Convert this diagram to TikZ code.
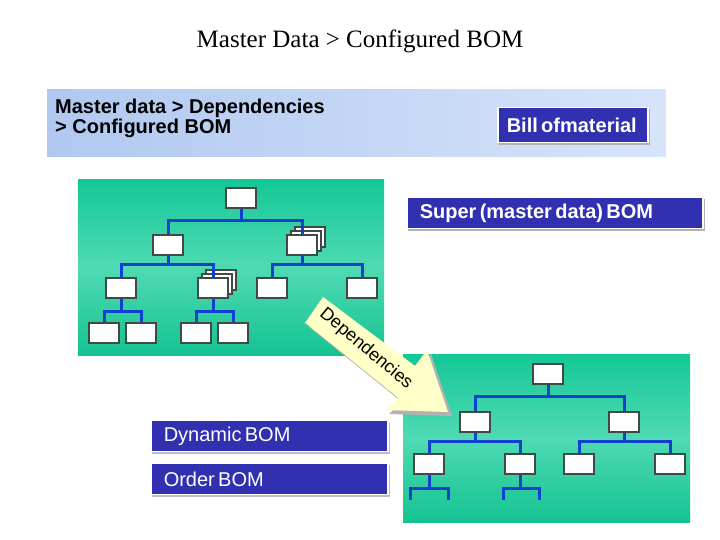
\documentclass[tikz,border=0pt]{standalone}
\usepackage{fontspec}
\setmainfont{Liberation Serif}
\newfontfamily\sans{Liberation Sans}
\usetikzlibrary{calc}
\definecolor{bx}{HTML}{404848}
\definecolor{ln}{HTML}{1040D0}
\definecolor{dk}{HTML}{3030B0}
\definecolor{pale}{HTML}{FFFFC8}
\newcommand{\lf}{\sans\bfseries\fontsize{20pt}{24pt}\selectfont}
\begin{document}
\begin{tikzpicture}[x=1pt,y=-1pt,
 bx/.style={draw=bx,fill=white,line width=1.4pt,minimum width=30pt,minimum height=20pt,inner sep=0pt},
 ln/.style={draw=ln,line width=3pt},
 lab/.style={fill=dk,text=white,anchor=west,inner xsep=0pt,inner ysep=0pt,draw=white,line width=1.5pt,align=left}]
\useasboundingbox (0,0) rectangle (720,540);
\node (title) at (360,41) {\fontsize{25pt}{29pt}\selectfont Master Data > Configured BOM};
% header band
\shade[left color={rgb,255:red,176;green,200;blue,240},right color={rgb,255:red,215;green,228;blue,250}] (47,90) rectangle (666,157);
\node[align=left,anchor=north west,inner sep=0pt] (hdr) at (55,99) {\lf Master data > Dependencies\\\lf > Configured BOM};
\fill[gray!60] (499,109) rectangle (650,145);
\node[lab,text width=150pt,minimum height=35pt] (bill) at (497,125) {\hspace{9pt}\lf Bill ofmaterial};
% left panel
\shade[top color={rgb,255:red,20;green,200;blue,150},bottom color={rgb,255:red,20;green,195;blue,145},middle color={rgb,255:red,80;green,218;blue,180}] (78,180) rectangle (384,355);
\node[bx] (r) at (241,198) {};
\node[bx] (a) at (168,245) {};
\node[bx] at (310,237) {};\node[bx] at (306,241) {};\node[bx] (b) at (302,245) {};
\node[bx] (a1) at (121,288) {};
\node[bx] at (221,280) {};\node[bx] at (217,284) {};\node[bx] (a2) at (213,288) {};
\node[bx] (b1) at (272,288) {};
\node[bx] (b2) at (362,288) {};
\node[bx] (c1) at (104,333) {};\node[bx] (c2) at (141,333) {};
\node[bx] (c3) at (196,333) {};\node[bx] (c4) at (233,333) {};
\foreach \p/\c/\d in {r/a/12,r/b/12,a/a1/9,a/a2/9,b/b1/9,b/b2/9,a1/c1/13,a1/c2/13,a2/c3/13,a2/c4/13}
  \draw[ln] (\p.south) -- ++(0,\d) -| (\c.north);
% right panel
\shade[top color={rgb,255:red,20;green,200;blue,150},bottom color={rgb,255:red,20;green,195;blue,145},middle color={rgb,255:red,80;green,218;blue,180}] (403,354) rectangle (690,522);
\node[bx] (R) at (548,374) {};
\node[bx] (A) at (475,422) {};\node[bx] (B) at (624,422) {};
\node[bx] (A1) at (429,464) {};\node[bx] (A2) at (520,464) {};
\node[bx] (B1) at (579,464) {};\node[bx] (B2) at (670,464) {};
\foreach \p/\c/\d in {R/A/12,R/B/12,A/A1/9,A/A2/9,B/B1/9,B/B2/9}
  \draw[ln] (\p.south) -- ++(0,\d) -| (\c.north);
\coordinate (e1) at (410,500);\coordinate (e2) at (448,500);
\coordinate (e3) at (503,500);\coordinate (e4) at (539,500);
\draw[ln] (A1.south) -- ++(0,14) -| (e1); \draw[ln] (A1.south) -- ++(0,14) -| (e2);
\draw[ln] (A2.south) -- ++(0,14) -| (e3); \draw[ln] (A2.south) -- ++(0,14) -| (e4);
% labels
\fill[gray!60] (408,199) rectangle (705,231);
\node[lab,text width=296pt,minimum height=31pt] (sup) at (406,213) {\hspace{13pt}\lf Super (master data) BOM};
\fill[gray!50] (152,422) rectangle (390,454);
\node[lab,text width=237pt,minimum height=31pt] (dyn) at (150,436) {\hspace{13pt}\lf\mdseries Dynamic BOM};
\fill[gray!50] (152,465) rectangle (390,497);
\node[lab,text width=237pt,minimum height=31pt] (ord) at (150,479) {\hspace{13pt}\lf\mdseries Order BOM};
% arrow
\fill[gray!60] ($(323,297)+(4,4)$) -- ++(92,69) -- ++(12,-16) -- ++(21,62) -- ++(-63,-2) -- ++(13,-12) -- ++(-93,-75) -- cycle;
\fill[pale] (323,297) -- (415,366) -- (427,350) -- (448,412) -- (385,410) -- (398,398) -- (305,323) -- cycle;
\draw[gray,densely dotted,thin] (305,323) -- (398,398);
\node[rotate=-40,inner sep=0pt] (dep) at (366,349) {\sans\fontsize{18pt}{20pt}\selectfont Dependencies};
\end{tikzpicture}
\end{document}
